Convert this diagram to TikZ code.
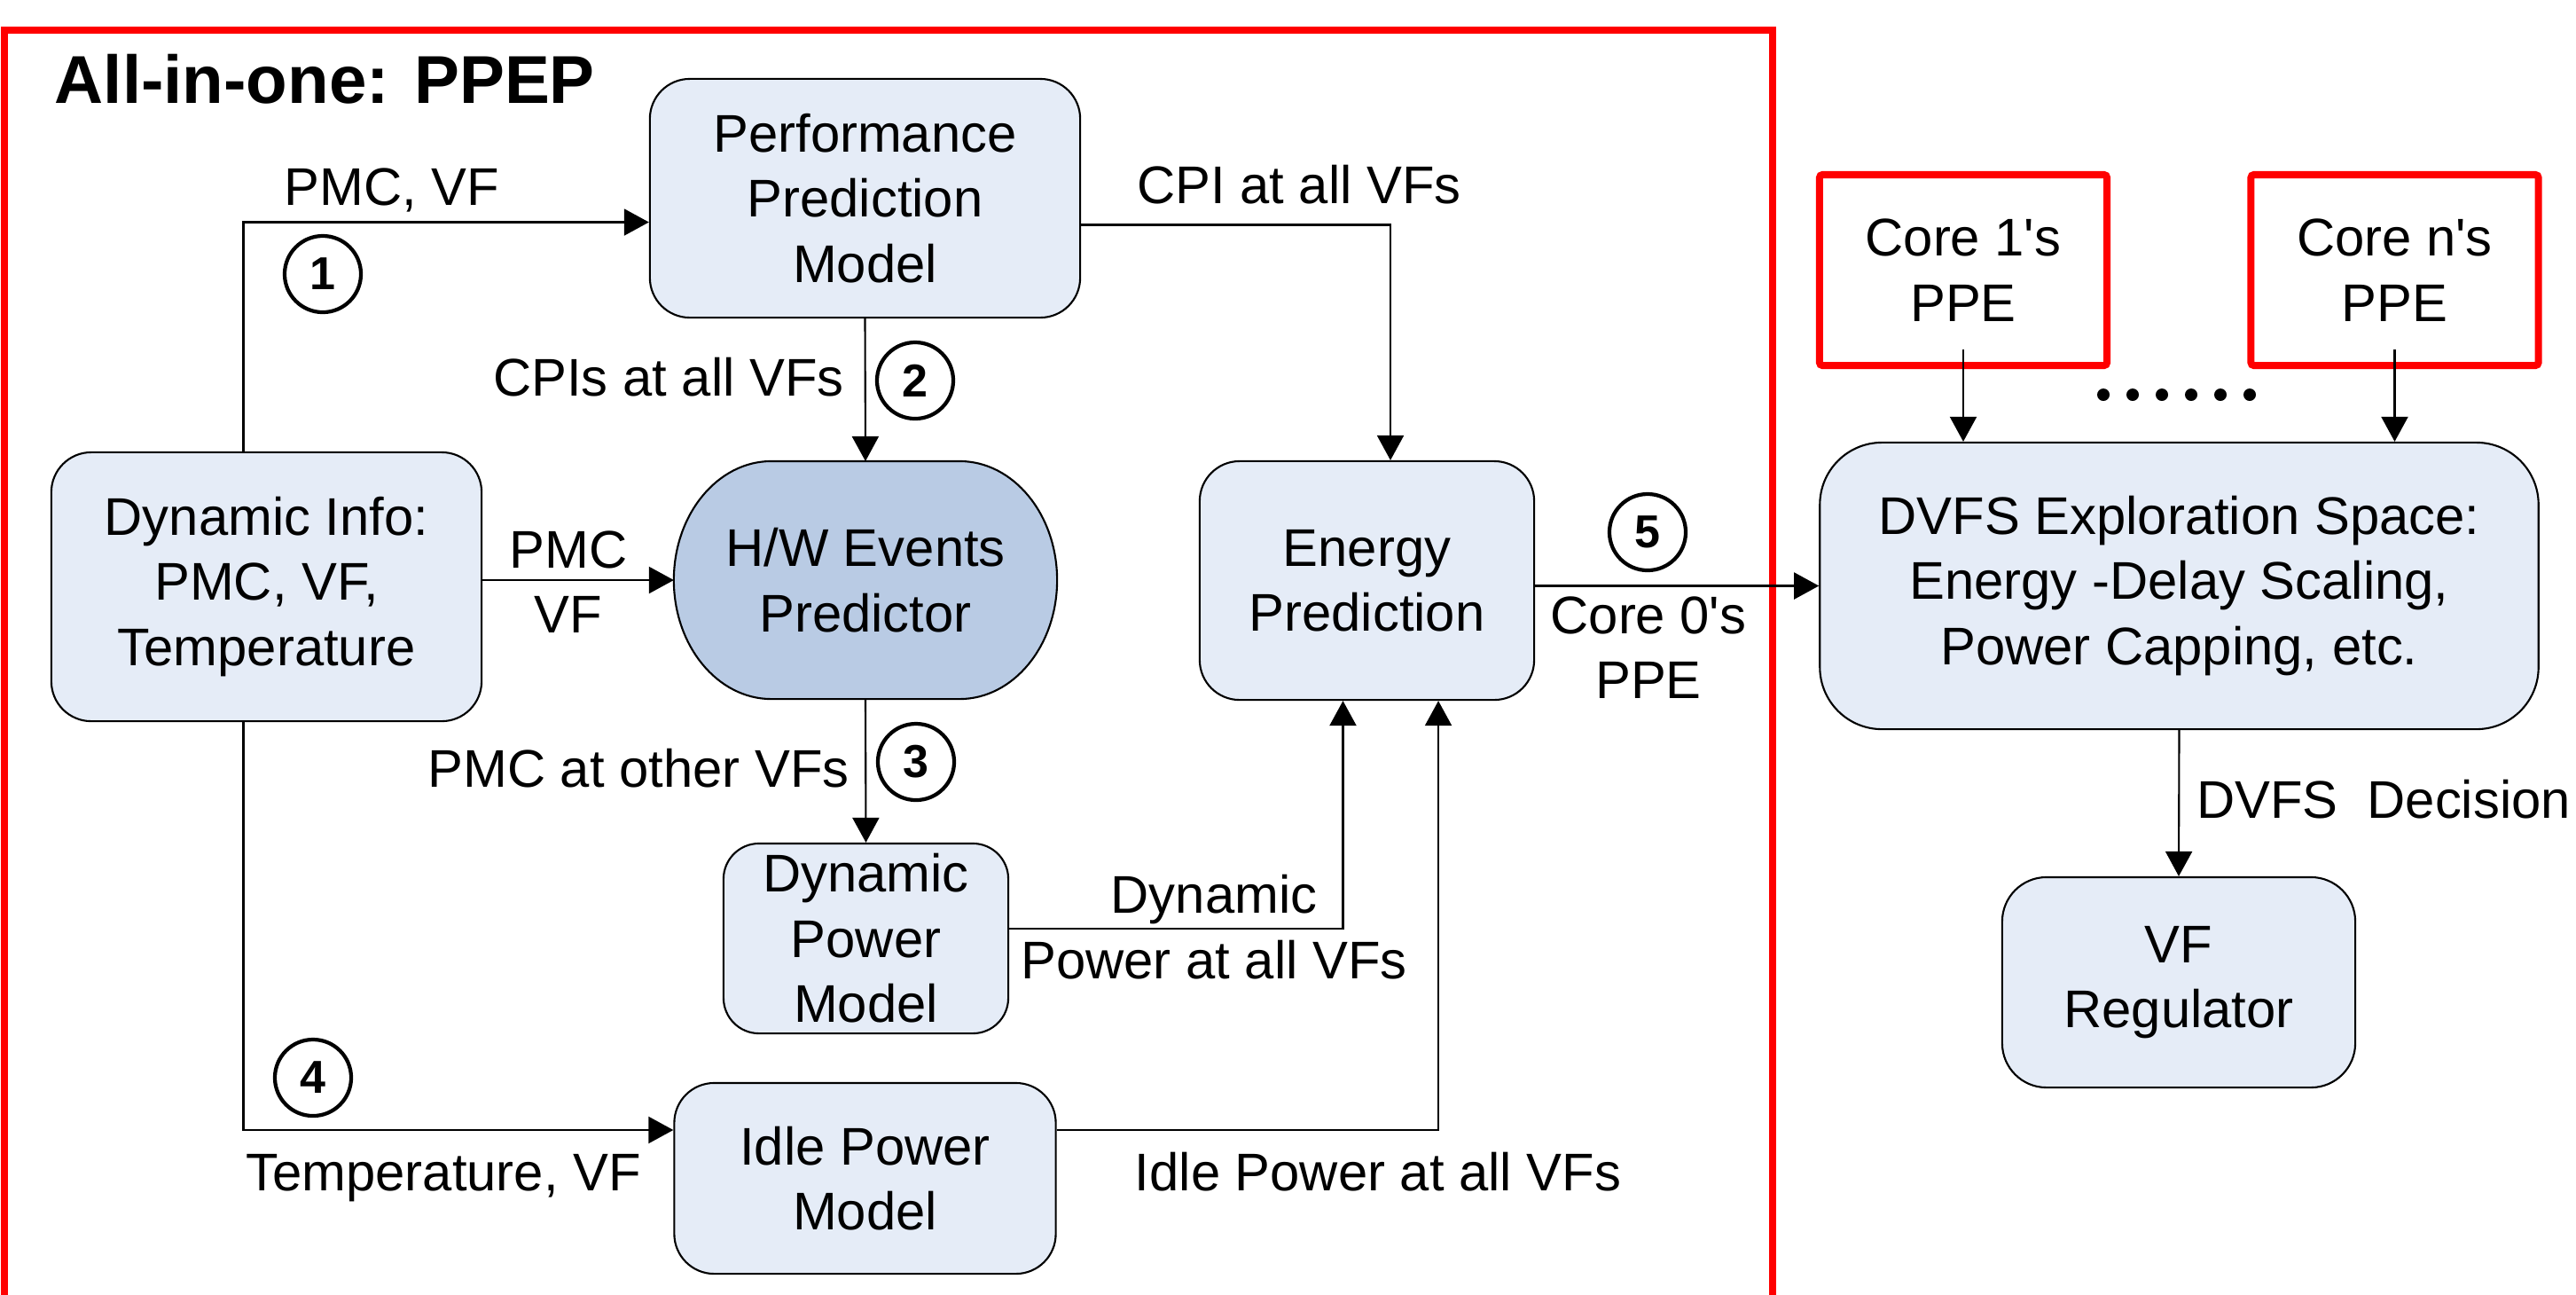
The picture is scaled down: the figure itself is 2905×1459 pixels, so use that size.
\documentclass[tikz,border=0pt]{standalone}
\usepackage{fontspec}
\setmainfont{Liberation Sans}
\usetikzlibrary{arrows.meta,backgrounds}
\definecolor{boxfill}{RGB}{229,236,247}
\definecolor{evfill}{RGB}{185,203,228}
\definecolor{ppered}{RGB}{255,0,0}
\tikzset{
  txt/.style={font=\fontsize{17}{20.9}\selectfont,align=center},
  block/.style={txt,draw,line width=0.6pt,fill=boxfill,rounded corners=0.45cm},
  ppebox/.style={txt,draw=ppered,line width=2.3pt,rounded corners=1pt},
  num/.style={circle,draw,line width=1.2pt,minimum size=0.86cm,font=\bfseries\fontsize{14.8}{15}\selectfont},
  flow/.style={line width=0.6pt,-{Triangle[length=0.28cm,width=0.3cm]}},
  wire/.style={line width=0.6pt}
}

\begin{document}
\begin{tikzpicture}[x=0.01cm,y=-0.01cm]
            \tikzstyle{every node}+=[inner sep=0pt]
            \useasboundingbox (0,0) rectangle (2905,1459);
            \draw [ppered,line width=2.3pt] (5,1470) -- (5,34) -- (1999,34) -- (1999,1470);
            \node [anchor=base west,font=\bfseries\fontsize{21.7}{24}\selectfont] (title) at (61,116) {All-in-one: PPEP};
            \node [block,minimum width=4.85cm,minimum height=2.69cm] (perf) at (975.5,223.5) {Performance\\Prediction\\Model};
            \node [block,minimum width=4.85cm,minimum height=3.03cm] (dyn) at (300.5,661.5) {Dynamic Info:\\PMC, VF,\\Temperature};
            \node [txt,outer sep=0pt,minimum width=4.32cm,minimum height=2.68cm] (hw) at (976,654) {H/W Events\\Predictor};
            \begin{scope}[on background layer]
                \draw [line width=0.6pt,fill=evfill] ([xshift=1.1cm]hw.north west) -- ([xshift=-1.1cm]hw.north east)
                    arc [start angle=90,end angle=-90,x radius=1.1cm,y radius=1.34cm] -- ([xshift=1.1cm]hw.south west)
                    arc [start angle=270,end angle=90,x radius=1.1cm,y radius=1.34cm] -- cycle;
            \end{scope}
            \node [block,minimum width=3.77cm,minimum height=2.69cm] (energy) at (1541.5,654.5) {Energy\\Prediction};
            \node [block,rounded corners=0.4cm,minimum width=3.21cm,minimum height=2.14cm] (dynpow) at (976.5,1058) {Dynamic\\Power\\Model};
            \node [block,minimum width=4.30cm,minimum height=2.15cm] (idle) at (975.5,1328.5) {Idle Power\\Model};
            \node [ppebox,minimum width=3.24cm,minimum height=2.15cm] (core1) at (2214,304.5) {Core 1\textquotesingle s\\PPE};
            \node [ppebox,minimum width=3.24cm,minimum height=2.15cm] (coren) at (2700.5,304.5) {Core n\textquotesingle s\\PPE};
            \node [block,rounded corners=0.7cm,minimum width=8.1cm,minimum height=3.23cm] (dvfs) at (2457.5,660.5) {DVFS Exploration Space:\\Energy -Delay Scaling,\\Power Capping, etc.};
            \node [block,rounded corners=0.5cm,minimum width=3.98cm,minimum height=2.37cm] (vf) at (2457,1107.5) {VF\\Regulator};
            \foreach \d in {0,...,5}
                \fill (2372+33*\d,445) circle (0.07cm);
            \node [num] (n1) at (364,309) {1};
            \node [num] (n2) at (1032,429) {2};
            \node [num] (n3) at (1033,859) {3};
            \node [num] (n4) at (353,1215) {4};
            \node [num] (n5) at (1858,600) {5};
            \draw [flow] ([xshift=-0.26cm]dyn.north) |- ([yshift=-0.27cm]perf.west);
            \node [txt,anchor=base] (lpmcvf) at (442,231) {PMC, VF};
            \draw [flow] (perf.south) -- (hw.north);
            \node [txt,anchor=base] (lcpis) at (754,446) {CPIs at all VFs};
            \draw [flow] (dyn.east |- hw.west) -- (hw.west);
            \node [txt] (lpmc) at (641,656) {PMC\\VF};
            \draw [flow] (hw.south) -- (dynpow.north);
            \node [txt,anchor=base] (lother) at (720,887) {PMC at other VFs};
            \draw [flow] ([xshift=-0.26cm]dyn.south) |- ([yshift=0.545cm]idle.west);
            \node [txt,anchor=base] (ltemp) at (500,1342) {Temperature, VF};
            \draw [flow] ([yshift=-0.3cm]perf.east) -| ([xshift=0.265cm]energy.north);
            \node [txt,anchor=base] (lcpi) at (1465,229) {CPI at all VFs};
            \draw [flow] ([yshift=0.11cm]dynpow.east) -| ([xshift=-0.27cm]energy.south);
            \node [txt] (ldyn) at (1369,1045) {Dynamic\\Power at all VFs};
            \draw [flow] ([yshift=0.545cm]idle.east) -| ([xshift=0.805cm]energy.south);
            \node [txt,anchor=base] (lidle) at (1554,1342) {Idle Power at all VFs};
            \draw [flow] (energy.east |- dvfs.west) -- (dvfs.west);
            \node [txt] (lcore0) at (1859,730) {Core 0\textquotesingle s\\PPE};
            \draw [flow] ([yshift=0.22cm]core1.south) -- (core1.south |- dvfs.north);
            \draw [flow] ([yshift=0.22cm]coren.south) -- (coren.south |- dvfs.north);
            \draw [flow] (dvfs.south) -- (vf.north);
            \node [txt,anchor=base] (ldec) at (2688,922) {DVFS\ \ Decision};
\end{tikzpicture}
\end{document}
